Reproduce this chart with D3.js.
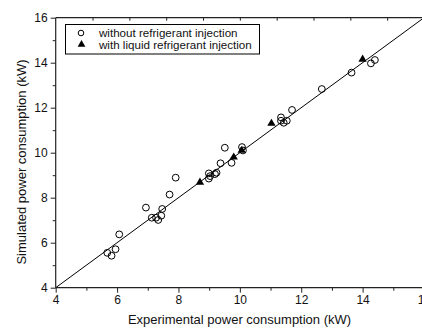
<!DOCTYPE html>
<html><head><meta charset="utf-8">
<script src="https://cdn.jsdelivr.net/npm/d3@7"></script>
<style>body{margin:0;background:#fff}svg{display:block;font-family:"Liberation Sans",Arial,sans-serif}</style>
</head><body><svg id="c" width="422" height="330"></svg>
<script>
const noInjX = [5.68,5.82,5.95,6.07,6.94,7.13,7.27,7.34,7.44,7.47,7.71,7.91,8.99,9.03,8.99,9.19,9.24,9.37,9.51,9.73,10.07,10.10,11.34,11.34,11.43,11.53,11.70,12.67,13.64,14.27,14.40];
const noInjY = [5.55,5.42,5.71,6.37,7.56,7.11,7.11,7.01,7.20,7.50,8.14,8.89,9.08,8.96,8.85,9.05,9.11,9.53,10.22,9.55,10.25,10.10,11.57,11.42,11.33,11.42,11.90,12.83,13.56,13.97,14.12];
const liqX = [8.70,9.80,10.06,11.03,14.00];
const liqY = [8.68,9.80,10.10,11.30,14.15];
const majorTicks = [4,6,8,10,12,14,16];
const minorTicks = [5,7,9,11,13,15];
const topTicks = [5.2,6.4,7.6,8.8,10,11.2,12.4,13.6,14.8];
const legendLabels = ["without refrigerant injection","with liquid refrigerant injection"];
const xTitle = "Experimental power consumption (kW)";
const yTitle = "Simulated power consumption (kW)";

const svg = d3.select("#c");
const x = d3.scaleLinear().domain([4,16]).range([55.7,424]);
const y = d3.scaleLinear().domain([4,16]).range([287.7,17.7]);
const X0=x(4), X1=x(16), Y0=y(4), Y1=y(16);

// diagonal
svg.append("line").attr("x1",x(4)).attr("y1",y(4)).attr("x2",x(16)).attr("y2",y(16))
  .attr("stroke","#000").attr("stroke-width",1);

// frame
const fr = svg.append("g").attr("stroke","#222").attr("stroke-width",1.2);
fr.append("line").attr("x1",X0).attr("x2",X1).attr("y1",Y0).attr("y2",Y0);
fr.append("line").attr("x1",X0).attr("x2",X1).attr("y1",Y1).attr("y2",Y1);
fr.append("line").attr("x1",X0).attr("x2",X0).attr("y1",Y0).attr("y2",Y1);
fr.append("line").attr("x1",X1).attr("x2",X1).attr("y1",Y0).attr("y2",Y1);

// bottom axis
svg.append("g").attr("transform",`translate(0,${Y0})`)
  .call(d3.axisBottom(x).tickValues(majorTicks).tickSize(5).tickPadding(3).tickFormat(d3.format("d")));
svg.append("g").attr("transform",`translate(0,${Y0})`)
  .call(d3.axisBottom(x).tickValues(minorTicks).tickSize(3).tickFormat(""));
// left axis
svg.append("g").attr("transform",`translate(${X0},0)`)
  .call(d3.axisLeft(y).tickValues(majorTicks).tickSize(5).tickPadding(3).tickFormat(d3.format("d")));
svg.append("g").attr("transform",`translate(${X0},0)`)
  .call(d3.axisLeft(y).tickValues(minorTicks).tickSize(3).tickFormat(""));
// top axis (inward ticks)
svg.append("g").attr("transform",`translate(0,${Y1})`)
  .call(d3.axisBottom(x).tickValues(topTicks).tickSize(3).tickFormat(""));
svg.selectAll(".domain").remove();
svg.selectAll(".tick line").attr("stroke","#222").attr("stroke-width",1);
svg.selectAll(".tick text").attr("font-size",12).attr("fill","#111")
  .attr("font-family","Liberation Sans, Arial, sans-serif");

// titles
svg.append("text").attr("x",239.5).attr("y",324).attr("text-anchor","middle")
  .attr("font-size",13).attr("fill","#111").text(xTitle);
svg.append("text").attr("transform","translate(26,162) rotate(-90)").attr("text-anchor","middle")
  .attr("font-size",13).attr("fill","#111").text(yTitle);

// points
const noInj = noInjX.map((v,i)=>[v,noInjY[i]]);
const liq = liqX.map((v,i)=>[v,liqY[i]]);
svg.append("g").selectAll("circle").data(noInj).join("circle")
  .attr("cx",d=>x(d[0])).attr("cy",d=>y(d[1])).attr("r",3.4)
  .attr("fill","none").attr("stroke","#000").attr("stroke-width",1);
const tri = d3.symbol().type(d3.symbolTriangle).size(30);
svg.append("g").selectAll("path").data(liq).join("path")
  .attr("transform",d=>`translate(${x(d[0])},${y(d[1])})`).attr("d",tri).attr("fill","#000");

// legend
const lg = svg.append("g");
lg.append("rect").attr("x",65.5).attr("y",24.5).attr("width",194).attr("height",29.5)
  .attr("fill","#fff").attr("stroke","#000").attr("stroke-width",1);
lg.append("circle").attr("cx",81).attr("cy",33).attr("r",2.8).attr("fill","none").attr("stroke","#000");
lg.append("path").attr("transform","translate(81.5,44.5)").attr("d",d3.symbol().type(d3.symbolTriangle).size(26)).attr("fill","#000");
lg.selectAll("text").data(legendLabels).join("text")
  .attr("x",99).attr("y",(d,i)=>37+i*12).attr("font-size",11.6).attr("fill","#111").text(d=>d);
</script></body></html>
